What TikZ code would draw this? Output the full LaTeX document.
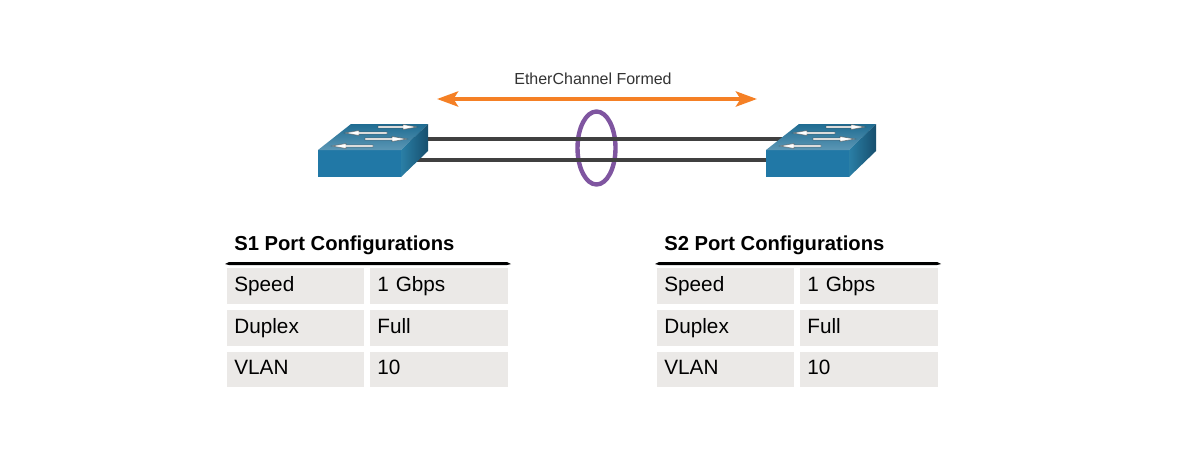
\documentclass[tikz,border=0pt]{standalone}
\usepackage{fontspec}
\setmainfont{Liberation Sans}
\usepackage{xcolor}
\usetikzlibrary{shapes,arrows.meta,positioning}
\definecolor{swfront}{HTML}{2178A6}
\definecolor{swtopback}{HTML}{1F6C92}
\definecolor{swtopfront}{HTML}{5C97B5}
\definecolor{swsideleft}{HTML}{2A7FA6}
\definecolor{swsideright}{HTML}{174F6E}
\definecolor{linkgray}{HTML}{404040}
\definecolor{chanorange}{HTML}{F58025}
\definecolor{chanpurple}{HTML}{7F55A0}
\definecolor{cellgray}{HTML}{EBE9E7}
\tikzset{
    swarrow/.style={fill=white, draw=black!70, draw opacity=0.55, line width=0.45pt},
    link/.style={draw=linkgray, line width=2pt},
    channel/.style={draw=chanorange, line width=2.4pt, {Stealth[length=.42cm,width=.3cm,inset=.09cm]}-{Stealth[length=.42cm,width=.3cm,inset=.09cm]}},
    bundle/.style={draw=chanpurple, line width=2.5pt, ellipse, minimum width=.76cm, minimum height=1.46cm, inner sep=0pt},
    cell/.style={fill=cellgray, anchor=north west, minimum height=.71cm, text width=2.46cm, inner xsep=.14cm, inner ysep=0pt, align=left, text height=8.2pt, text depth=2.4pt, font=\fontsize{11.8}{13}\selectfont},
    valcell/.style={cell, text width=2.48cm},
    heading/.style={anchor=base west, inner sep=0pt, font=\fontsize{11.5}{13}\selectfont\bfseries},
    caption/.style={anchor=base, inner sep=0pt, text=black!80, font=\fontsize{9.1}{11}\selectfont},
    switchicon/.pic={
        \fill[swfront] (0,0) rectangle (83,27);
        \shade[top color=swtopback, bottom color=swtopfront] (0,0) -- (33,-26) -- (110,-26) -- (83,0) -- cycle;
        \shade[left color=swsideleft, right color=swsideright] (83,0) -- (110,-26) -- (110,1) -- (83,27) -- cycle;
        \draw[swarrow] (60,-23.9) -- (85,-23.9) -- (85,-25.5) -- (99,-23) -- (85,-20.5) -- (85,-22.1) -- (60,-22.1) -- cycle;
        \draw[swarrow] (69,-17.9) -- (41,-17.9) -- (41,-19.5) -- (27,-17) -- (41,-14.5) -- (41,-16.1) -- (69,-16.1) -- cycle;
        \draw[swarrow] (47,-11.9) -- (74,-11.9) -- (74,-13.5) -- (89,-11) -- (74,-8.5) -- (74,-10.1) -- (47,-10.1) -- cycle;
        \draw[swarrow] (55,-4.9) -- (28,-4.9) -- (28,-6.5) -- (14,-4) -- (28,-1.5) -- (28,-3.1) -- (55,-3.1) -- cycle;
    },
    linkpoints/.pic={
        \coordinate (-top) at (55,-11);
        \coordinate (-bottom) at (40,10);
    }
}
\begin{document}
\begin{tikzpicture}[x=0.02cm, y=-0.02cm]
    \useasboundingbox (0,0) rectangle (1185,450);
    \fill[white] (0,0) rectangle (1185,450);

    % channel arrow and label
    \node[caption] (formed) at (593,84) {EtherChannel Formed};
    \coordinate (chanL) at (437,99);
    \coordinate (chanR) at (757,99);
    \draw[channel] (chanL) -- (chanR);

    % bundle ring goes under the links
    \node[bundle] (ring) at (596.5,148) {};

    % links first, the switches cover their ends
    \pic (swA) at (318,150) {linkpoints};
    \pic (swB) at (766,150) {linkpoints};
    \draw[link] (swA-top) -- (swB-top);
    \draw[link] (swA-bottom) -- (swB-bottom);
    \pic at (318,150) {switchicon};
    \pic at (766,150) {switchicon};

    % S1 table
    \node[heading] (headA) at (234,250) {S1 Port Configurations};
    \fill[black] (225,264) -- (229,262) -- (507,262) -- (511,264) -- (507,265) -- (229,265) -- cycle;
    \node[cell] (speedA) at (227,268) {Speed};
    \node[valcell] (speedvalA) at (370,268) {1 Gbps};
    \node[cell] (duplexA) at (227,310) {Duplex};
    \node[valcell] (duplexvalA) at (370,310) {Full};
    \node[cell] (vlanA) at (227,351.5) {VLAN};
    \node[valcell] (vlanvalA) at (370,351.5) {10};

    % S2 table
    \node[heading] (headB) at (664,250) {S2 Port Configurations};
    \fill[black] (655,264) -- (659,262) -- (937,262) -- (941,264) -- (937,265) -- (659,265) -- cycle;
    \node[cell] (speedB) at (657,268) {Speed};
    \node[valcell] (speedvalB) at (800,268) {1 Gbps};
    \node[cell] (duplexB) at (657,310) {Duplex};
    \node[valcell] (duplexvalB) at (800,310) {Full};
    \node[cell] (vlanB) at (657,351.5) {VLAN};
    \node[valcell] (vlanvalB) at (800,351.5) {10};
\end{tikzpicture}
\end{document}
